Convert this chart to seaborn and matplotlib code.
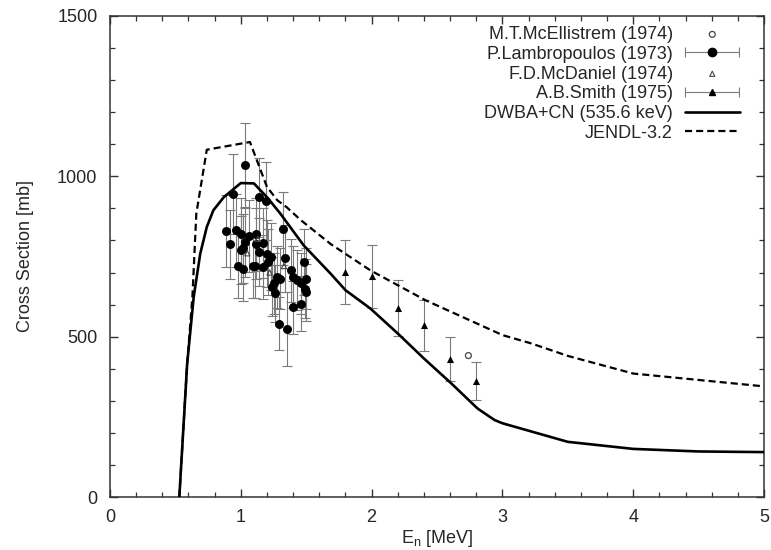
import numpy as np
import pandas as pd
import matplotlib
matplotlib.use("Agg")
import matplotlib.pyplot as plt
import seaborn as sns
from matplotlib.legend_handler import HandlerErrorbar
from matplotlib.ticker import MultipleLocator

# --- calculated curves ---
dwba_e = [0.53, 0.59, 0.64, 0.69, 0.74, 0.79, 0.87, 1.00, 1.10, 1.20, 1.30, 1.48,
          1.69, 1.80, 1.99, 2.20, 2.40, 2.61, 2.81, 2.94, 3.00, 3.50, 4.00, 4.50, 5.00]
dwba_s = [0, 416, 624, 759, 842, 894, 935, 979, 978, 935, 885, 785,
          695, 645, 588, 510, 432, 354, 276, 240, 230, 172, 150, 142, 140]

jendl_e = [0.53, 0.59, 0.63, 0.66, 0.74, 1.07, 1.20, 1.28, 1.35, 1.46, 1.69,
           1.99, 2.41, 3.00, 3.22, 3.50, 4.00, 5.00]
jendl_s = [0, 416, 624, 884, 1083, 1107, 967, 925, 904, 863, 788,
           707, 614, 505, 479, 440, 385, 345]

# --- measurements ---
lamb_e = [1.03, 0.94, 1.14, 1.19, 0.89, 0.96, 1.00, 0.92, 1.06, 1.03, 1.02, 1.00,
          1.12, 1.12, 1.17, 1.14, 0.98, 1.02, 1.09, 1.11, 1.17, 1.20, 1.23, 1.21,
          1.32, 1.34, 1.28, 1.30, 1.24, 1.25, 1.26, 1.29, 1.35, 1.38, 1.40, 1.43,
          1.46, 1.48, 1.50, 1.49, 1.50, 1.46, 1.40]
lamb_s = [1034, 944, 934, 922, 829, 832, 821, 788, 813, 795, 775, 770,
          819, 790, 792, 764, 721, 712, 721, 721, 717, 759, 749, 733,
          837, 744, 686, 681, 655, 666, 635, 541, 523, 707, 686, 676,
          666, 733, 681, 650, 638, 603, 591]
lamb_err = [132, 125, 124, 122, 112, 114, 112, 108, 112, 110, 108, 106,
            114, 110, 110, 106, 100, 100, 100, 100, 100, 104, 104, 102,
            114, 104, 96, 96, 92, 94, 90, 82, 116, 98, 96, 94,
            94, 102, 96, 92, 90, 86, 84]

smith_e = [1.8, 2.0, 2.2, 2.4, 2.6, 2.8]
smith_s = [701, 688, 590, 535, 430, 362]
smith_err = [100, 98, 88, 80, 68, 58]

mce_e = [2.74]
mce_s = [441]

mcd_e = [1.05, 1.13, 1.22, 1.33]
mcd_s = [760, 805, 700, 720]

sns.set_style("ticks")
plt.rcParams['font.family'] = ['Liberation Sans', 'DejaVu Sans']
plt.rcParams['font.size'] = 13

fig = plt.figure(figsize=(7.71, 5.5), dpi=100)
ax = fig.add_axes([110 / 771, 1 - 497 / 550, 654 / 771, 481 / 550])

ecol = "#7a7a7a"

# error bars first, markers on top
ax.errorbar(lamb_e, lamb_s, yerr=lamb_err, fmt="none", ecolor=ecol,
            elinewidth=0.8, capsize=3.5, capthick=0.8, zorder=2)
ax.errorbar(smith_e, smith_s, yerr=smith_err, fmt="none", ecolor=ecol,
            elinewidth=0.8, capsize=3.5, capthick=0.8, zorder=2)

sns.lineplot(x=dwba_e, y=dwba_s, ax=ax, color="black", lw=1.9, sort=False, zorder=3)
sns.lineplot(x=jendl_e, y=jendl_s, ax=ax, color="black", lw=1.6, sort=False,
             linestyle=(0, (3.2, 1.8)), zorder=3)

sns.scatterplot(x=lamb_e, y=lamb_s, ax=ax, marker="o", s=42, color="black",
                edgecolor="black", linewidth=0, zorder=4)
sns.scatterplot(x=smith_e, y=smith_s, ax=ax, marker="^", s=26, color="black",
                edgecolor="black", linewidth=0, zorder=4)
sns.scatterplot(x=mce_e, y=mce_s, ax=ax, marker="o", s=18, facecolor="none",
                edgecolor="#444444", linewidth=0.9, zorder=4)
sns.scatterplot(x=mcd_e, y=mcd_s, ax=ax, marker="^", s=14, facecolor="none",
                edgecolor="#444444", linewidth=0.8, zorder=4)

ax.set_xlim(0, 5)
ax.set_ylim(0, 1500)
ax.xaxis.set_major_locator(MultipleLocator(1))
ax.xaxis.set_minor_locator(MultipleLocator(0.2))
ax.yaxis.set_major_locator(MultipleLocator(500))
ax.yaxis.set_minor_locator(MultipleLocator(100))
ax.tick_params(which="both", direction="in", top=True, right=True, color="#333333")
ax.tick_params(which="major", length=6, width=1.0)
ax.tick_params(which="minor", length=3.5, width=0.9)
ax.tick_params(axis="y", which="major", pad=9)
ax.tick_params(axis="x", which="major", pad=9)
for sp in ax.spines.values():
    sp.set_visible(True)
    sp.set_color("#333333")
    sp.set_linewidth(1.1)

ax.set_xlabel(r"$\mathregular{E_n}$ [MeV]", labelpad=1)
ax.set_ylabel("Cross Section [mb]", labelpad=17)

# legend proxies (gnuplot style key)
h_mce = ax.scatter([np.nan], [np.nan], marker="o", s=18, facecolor="none",
                   edgecolor="#444444", linewidth=0.9)
h_lamb = ax.errorbar([np.nan], [np.nan], xerr=[1], fmt="o", ms=6, color="black",
                     ecolor=ecol, elinewidth=0.8, capsize=3.5, capthick=0.8)
h_mcd = ax.scatter([np.nan], [np.nan], marker="^", s=14, facecolor="none",
                   edgecolor="#444444", linewidth=0.8)
h_smith = ax.errorbar([np.nan], [np.nan], xerr=[1], fmt="^", ms=5, color="black",
                      ecolor=ecol, elinewidth=0.8, capsize=3.5, capthick=0.8)
h_dwba = plt.Line2D([], [], color="black", lw=1.9)
h_jendl = plt.Line2D([], [], color="black", lw=1.6, linestyle=(0, (3.2, 1.8)))

handles = [h_mce, h_lamb, h_mcd, h_smith, h_dwba, h_jendl]
labels = ["M.T.McEllistrem (1974)", "P.Lambropoulos (1973)", "F.D.McDaniel (1974)",
          "A.B.Smith (1975)", "DWBA+CN (535.6 keV)", "JENDL-3.2"]
ax.legend(handles, labels, loc="upper right", bbox_to_anchor=(0.963, 0.979),
          frameon=False, markerfirst=False, borderpad=0, borderaxespad=0,
          handlelength=3.05, handletextpad=0.66, labelspacing=0.15, scatterpoints=1,
          handler_map={type(h_lamb): HandlerErrorbar(xerr_size=1.5)})

fig.savefig("out.png", dpi=100)
